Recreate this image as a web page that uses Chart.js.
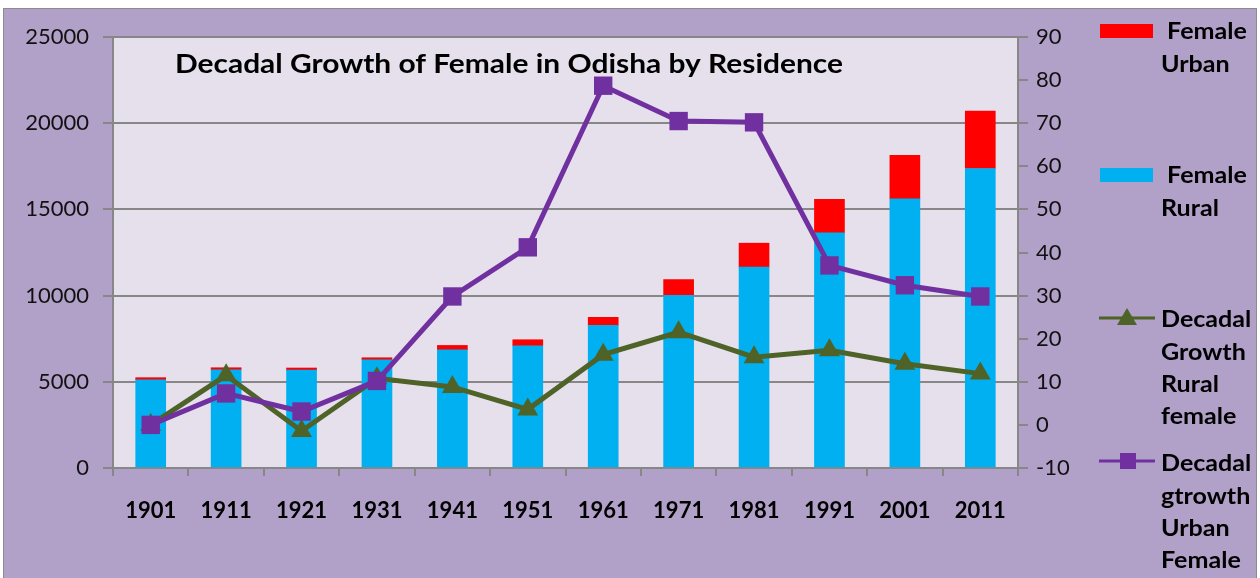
<!DOCTYPE html>
<html><head><meta charset="utf-8">
<script src="https://cdn.jsdelivr.net/npm/chart.js@4.4.0/dist/chart.umd.min.js"></script>
<style>html,body{margin:0;padding:0;background:#fff;}canvas{display:block;}</style>
</head><body>
<canvas id="c" width="1260" height="578"></canvas>
<script>
const years = ['1901','1911','1921','1931','1941','1951','1961','1971','1981','1991','2001','2011'];
const femaleRural = [5120, 5700, 5680, 6280, 6860, 7090, 8280, 10020, 11650, 13640, 15620, 17370];
const femaleUrban = [120, 115, 120, 115, 250, 350, 460, 910, 1390, 1940, 2520, 3330];
const ruralGrowth = [0, 11.5, -1.4, 10.8, 8.8, 3.6, 16.3, 21.5, 15.7, 17.3, 14.2, 11.9];
const urbanGrowth = [0, 7.3, 3.1, 10.2, 29.8, 41.2, 78.7, 70.5, 70.2, 37.0, 32.4, 29.8];
const leftTicks = [0, 25000, 5000];
const rightTicks = [-10, 90, 10];
const chartTitle = 'Decadal Growth of Female in Odisha by Residence';
const legendText = [[' Female','Urban'],[' Female','Rural'],['Decadal','Growth','Rural','female'],['Decadal','gtrowth','Urban','Female']];

const FONT = 'Lato, "Open Sans", sans-serif';
const GRID = '#878787';

const bgPlugin = {
  id: 'bg',
  beforeDraw(chart) {
    const ctx = chart.ctx, a = chart.chartArea;
    ctx.save();
    ctx.fillStyle = '#ffffff'; ctx.fillRect(0, 0, 1260, 578);
    ctx.fillStyle = '#b1a0c7'; ctx.fillRect(4, 9, 1253, 569);
    ctx.strokeStyle = '#8c8c8c'; ctx.lineWidth = 1; ctx.strokeRect(3.5, 8.5, 1253, 575);
    ctx.fillStyle = '#e5e0ec'; ctx.fillRect(a.left, a.top, a.right - a.left, a.bottom - a.top);
    ctx.restore();
  }
};

function wideText(ctx, text, x, y, sx) {
  ctx.save();
  ctx.translate(x, y);
  ctx.scale(sx, 1);
  ctx.fillText(text, 0, 0);
  ctx.restore();
}

const titlePlugin = {
  id: 'ttl',
  afterDraw(chart) {
    const ctx = chart.ctx;
    ctx.save();
    ctx.font = 'bold 27px ' + FONT;
    ctx.fillStyle = '#000';
    ctx.textBaseline = 'middle';
    ctx.textAlign = 'left';
    const w = ctx.measureText(chartTitle).width;
    wideText(ctx, chartTitle, 175, 64, 668 / w);
    ctx.restore();
  }
};

const legendPlugin = {
  id: 'lgd',
  afterDraw(chart) {
    const ctx = chart.ctx;
    const ds = chart.data.datasets;
    const symY = [31, 175, 318, 461];
    const txtY = [32, 176, 320, 464];
    const lh = 32.3;
    ctx.save();
    ds.forEach((d, i) => {
      const y = symY[i];
      if (d.type === 'bar') {
        ctx.fillStyle = d.backgroundColor;
        ctx.fillRect(1100, y - 7, 53, 14);
      } else {
        ctx.strokeStyle = d.borderColor;
        ctx.lineWidth = 3;
        ctx.beginPath(); ctx.moveTo(1099, y); ctx.lineTo(1155, y); ctx.stroke();
        ctx.fillStyle = d.borderColor;
        ctx.beginPath();
        if (d.pointStyle === 'triangle') {
          ctx.moveTo(1127, y - 10); ctx.lineTo(1137, y + 7); ctx.lineTo(1117, y + 7); ctx.closePath();
        } else {
          ctx.rect(1120, y - 8, 16, 16);
        }
        ctx.fill();
      }
      ctx.font = 'bold 23px ' + FONT;
      ctx.fillStyle = '#000';
      ctx.textBaseline = 'middle';
      ctx.textAlign = 'left';
      legendText[i].forEach((t, k) => wideText(ctx, t, 1161, txtY[i] + k * lh, 1.09));
    });
    ctx.restore();
  }
};

new Chart(document.getElementById('c'), {
  data: {
    labels: years,
    datasets: [
      { type: 'bar', label: 'Female Urban', data: femaleUrban, backgroundColor: '#ff0000', yAxisID: 'y', order: 4, barThickness: 30 },
      { type: 'bar', label: 'Female Rural', data: femaleRural, backgroundColor: '#00b0f0', yAxisID: 'y', order: 3, barThickness: 30 },
      { type: 'line', label: 'Decadal Growth Rural female', data: ruralGrowth, borderColor: '#4f6228', backgroundColor: '#4f6228',
        borderWidth: 5, pointStyle: 'triangle', pointRadius: 12, pointBorderWidth: 0, yAxisID: 'y2', order: 1, tension: 0 },
      { type: 'line', label: 'Decadal gtrowth Urban Female', data: urbanGrowth, borderColor: '#7030a0', backgroundColor: '#7030a0',
        borderWidth: 5, pointStyle: 'rect', pointRadius: 13, pointBorderWidth: 0, yAxisID: 'y2', order: 0, tension: 0 }
    ]
  },
  options: {
    responsive: false,
    animation: false,
    devicePixelRatio: 1,
    layout: { padding: { left: 0, top: 37, right: 180, bottom: 50 } },
    plugins: { legend: { display: false }, tooltip: { enabled: false }, title: { display: false } },
    scales: {
      x: {
        stacked: true, offset: true,
        grid: { offset: true, drawOnChartArea: false, tickLength: 8, color: GRID, lineWidth: 2 },
        border: { color: GRID, width: 2 },
        ticks: { font: { family: FONT, size: 22, weight: 'bold' }, color: '#000', padding: 22, maxRotation: 0 },
        afterFit(s) { s.height = 60; }
      },
      y: {
        stacked: true, position: 'left', min: leftTicks[0], max: leftTicks[1],
        ticks: { stepSize: leftTicks[2], font: { family: FONT, size: 22 }, color: '#111', padding: 14,
                 callback: v => String(v) },
        grid: { color: GRID, lineWidth: 2, tickLength: 10 },
        border: { color: GRID, width: 2 },
        afterFit(s) { s.width = 113; }
      },
      y2: {
        position: 'right', min: rightTicks[0], max: rightTicks[1],
        ticks: { stepSize: rightTicks[2], font: { family: FONT, size: 22 }, color: '#111', padding: 8,
                 callback: v => String(v) },
        grid: { drawOnChartArea: false, color: GRID, lineWidth: 2, tickLength: 10 },
        border: { color: GRID, width: 2 },
        afterFit(s) { s.width = 62; }
      }
    }
  },
  plugins: [bgPlugin, titlePlugin, legendPlugin]
});
</script>
</body></html>
